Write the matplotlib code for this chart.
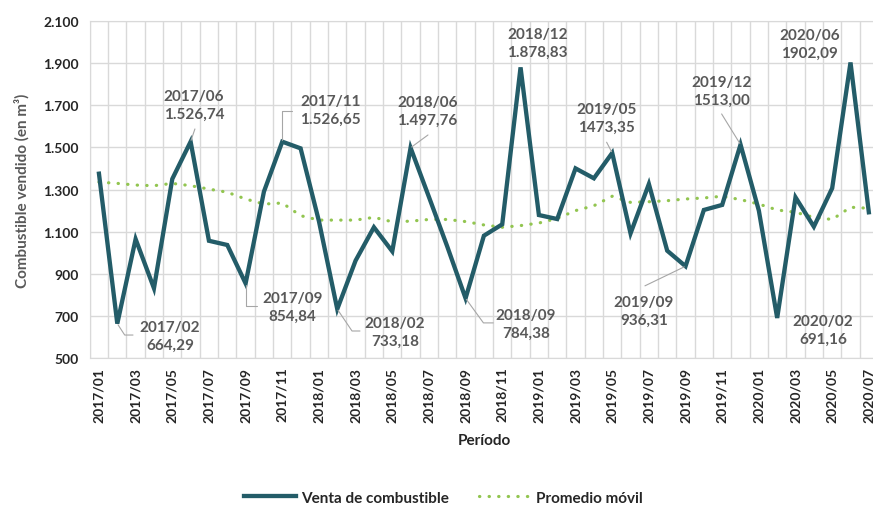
import pandas as pd
import matplotlib
matplotlib.use('Agg')
import matplotlib.pyplot as plt
from matplotlib.ticker import FuncFormatter


periodos = pd.period_range('2017-01', '2020-07', freq='M').strftime('%Y/%m').tolist()

venta = [1375, 664.29, 1065, 832, 1350, 1526.74, 1057, 1037, 854.84, 1290,
         1526.65, 1495, 1150, 733.18, 963, 1121, 1007, 1497.76, 1265, 1030,
         784.38, 1081, 1135, 1878.83, 1179, 1160, 1400, 1353, 1473.35, 1092,
         1326, 1010, 936.31, 1203, 1227, 1513.00, 1200, 691.16, 1263, 1124,
         1306, 1902.09, 1192]

promedio = [1335, 1329, 1321, 1318, 1329, 1318, 1302, 1287, 1255, 1231,
            1236, 1176, 1155, 1155, 1155, 1168, 1147, 1150, 1158, 1158,
            1148, 1132, 1121, 1129, 1141, 1163, 1200, 1223, 1268, 1239,
            1242, 1247, 1255, 1260, 1268, 1252, 1231, 1203, 1192, 1168,
            1158, 1216, 1211]

y_ticks = [500, 700, 900, 1100, 1300, 1500, 1700, 1900, 2100]

# periods that carry a value label, and the text shown
etiquetas = {
    '2017/02': '2017/02\n664,29',
    '2017/06': '2017/06\n1.526,74',
    '2017/09': '2017/09\n854,84',
    '2017/11': '2017/11\n1.526,65',
    '2018/02': '2018/02\n733,18',
    '2018/06': '2018/06\n1.497,76',
    '2018/09': '2018/09\n784,38',
    '2018/12': '2018/12\n1.878,83',
    '2019/05': '2019/05\n1473,35',
    '2019/09': '2019/09\n936,31',
    '2019/12': '2019/12\n1513,00',
    '2020/02': '2020/02\n691,16',
    '2020/06': '2020/06\n1902,09',
}

# layout of the labels: text centre offset and leader (end offset, connection), in pixels, y down
LAYOUT = {
    '2017/02': ((52.7, 12.4), ((15.7, 11.4), 'angle,angleA=0,angleB=-57,rad=0')),
    '2017/06': ((3.3, -36.7), ((4.3, -12.7), 'arc3')),
    '2017/09': ((47, 23), ((11, 22.3), 'angle,angleA=0,angleB=90,rad=0')),
    '2017/11': ((48, -31.7), ((9.7, -30.7), 'angle,angleA=0,angleB=90,rad=0')),
    '2018/02': ((57.7, 23.2), ((22.7, 21.9), 'angle,angleA=0,angleB=-56,rad=0')),
    '2018/06': ((16.7, -37), ((17.4, -12.8), 'arc3')),
    '2018/09': ((60.4, 25.6), ((27.7, 24.6), 'angle,angleA=0,angleB=-54,rad=0')),
    '2018/12': ((17, -24.6), None),
    '2019/05': ((-5.6, -35), ((-5.6, -10.7), 'arc3')),
    '2019/09': ((-41.6, 45), ((-40.6, 19.6), 'arc3')),
    '2019/12': ((-19, -53.4), ((-18.9, -30.6), 'arc3')),
    '2020/02': ((45.7, 12), None),
    '2020/06': ((-41, -18.5), None),
}

plt.rcParams['font.family'] = ['Lato', 'DejaVu Sans']

COL_VENTA = '#235c68'
COL_PROM = '#92c550'
COL_TXT = '#595959'

fig = plt.figure(figsize=(8.73, 5.10), dpi=100)
ax = fig.add_axes([89.8 / 873, 1 - 359.3 / 510, 788.2 / 873, 337.6 / 510])

x = list(range(len(periodos)))
ax.plot(x, venta, color=COL_VENTA, lw=3.1, solid_joinstyle='miter',
        label='Venta de combustible', zorder=3)
ax.plot(x, promedio, color=COL_PROM, lw=2.3, linestyle=(0, (0.1, 2.9)),
        dash_capstyle='round', label='Promedio móvil', zorder=2)

ax.set_xlim(-0.5, len(periodos) - 0.5)
ax.set_ylim(y_ticks[0], y_ticks[-1])
ax.set_yticks(y_ticks)
ax.yaxis.set_major_formatter(
    FuncFormatter(lambda v, p: f'{v:,.0f}'.replace(',', '.')))

ax.set_xticks(x[::2])
ax.set_xticklabels(periodos[::2], rotation=90)
ax.set_xticks([i - 0.5 for i in range(len(periodos) + 1)], minor=True)
ax.tick_params(which='both', length=0)
ax.tick_params(axis='x', labelsize=10, pad=6, labelcolor='#262626')
ax.tick_params(axis='y', labelsize=10, pad=8, labelcolor='#262626')
for t in ax.get_xticklabels() + ax.get_yticklabels():
    t.set_fontweight('bold')

ax.grid(True, axis='y', which='major', color='#d9d9d9', lw=1)
ax.grid(True, axis='x', which='minor', color='#d9d9d9', lw=1)
ax.set_axisbelow(True)
for s in ax.spines.values():
    s.set_color('#d9d9d9')

ax.set_xlabel('Período', fontsize=11, fontweight='bold', color='#262626',
              labelpad=8)
ax.set_ylabel('Combustible vendido (en m³)', fontsize=11, fontweight='bold',
              color=COL_TXT, labelpad=10)

px = 0.72  # pixel -> points at 100 dpi
for per, texto in etiquetas.items():
    i = periodos.index(per)
    (tx, ty), leader = LAYOUT[per]
    ax.annotate(texto, (i, venta[i]), xytext=(tx * px, -ty * px),
                textcoords='offset points', ha='center', va='center',
                fontsize=11, fontweight='bold', color=COL_TXT,
                linespacing=1.35, zorder=4)
    if leader is not None:
        (lx, ly), estilo = leader
        ax.annotate('', (i, venta[i]), xytext=(lx * px, -ly * px),
                    textcoords='offset points',
                    arrowprops=dict(arrowstyle='-', color='#a6a6a6', lw=0.8,
                                    shrinkA=0, shrinkB=1,
                                    connectionstyle=estilo), zorder=4)

fig.legend(loc='center', bbox_to_anchor=(0.508, 0.022), ncol=2,
           frameon=False, handlelength=3.4, columnspacing=2.0,
           handletextpad=0.3, prop={'size': 11, 'weight': 'bold'},
           labelcolor='#262626')

fig.savefig('out.png', dpi=100)
